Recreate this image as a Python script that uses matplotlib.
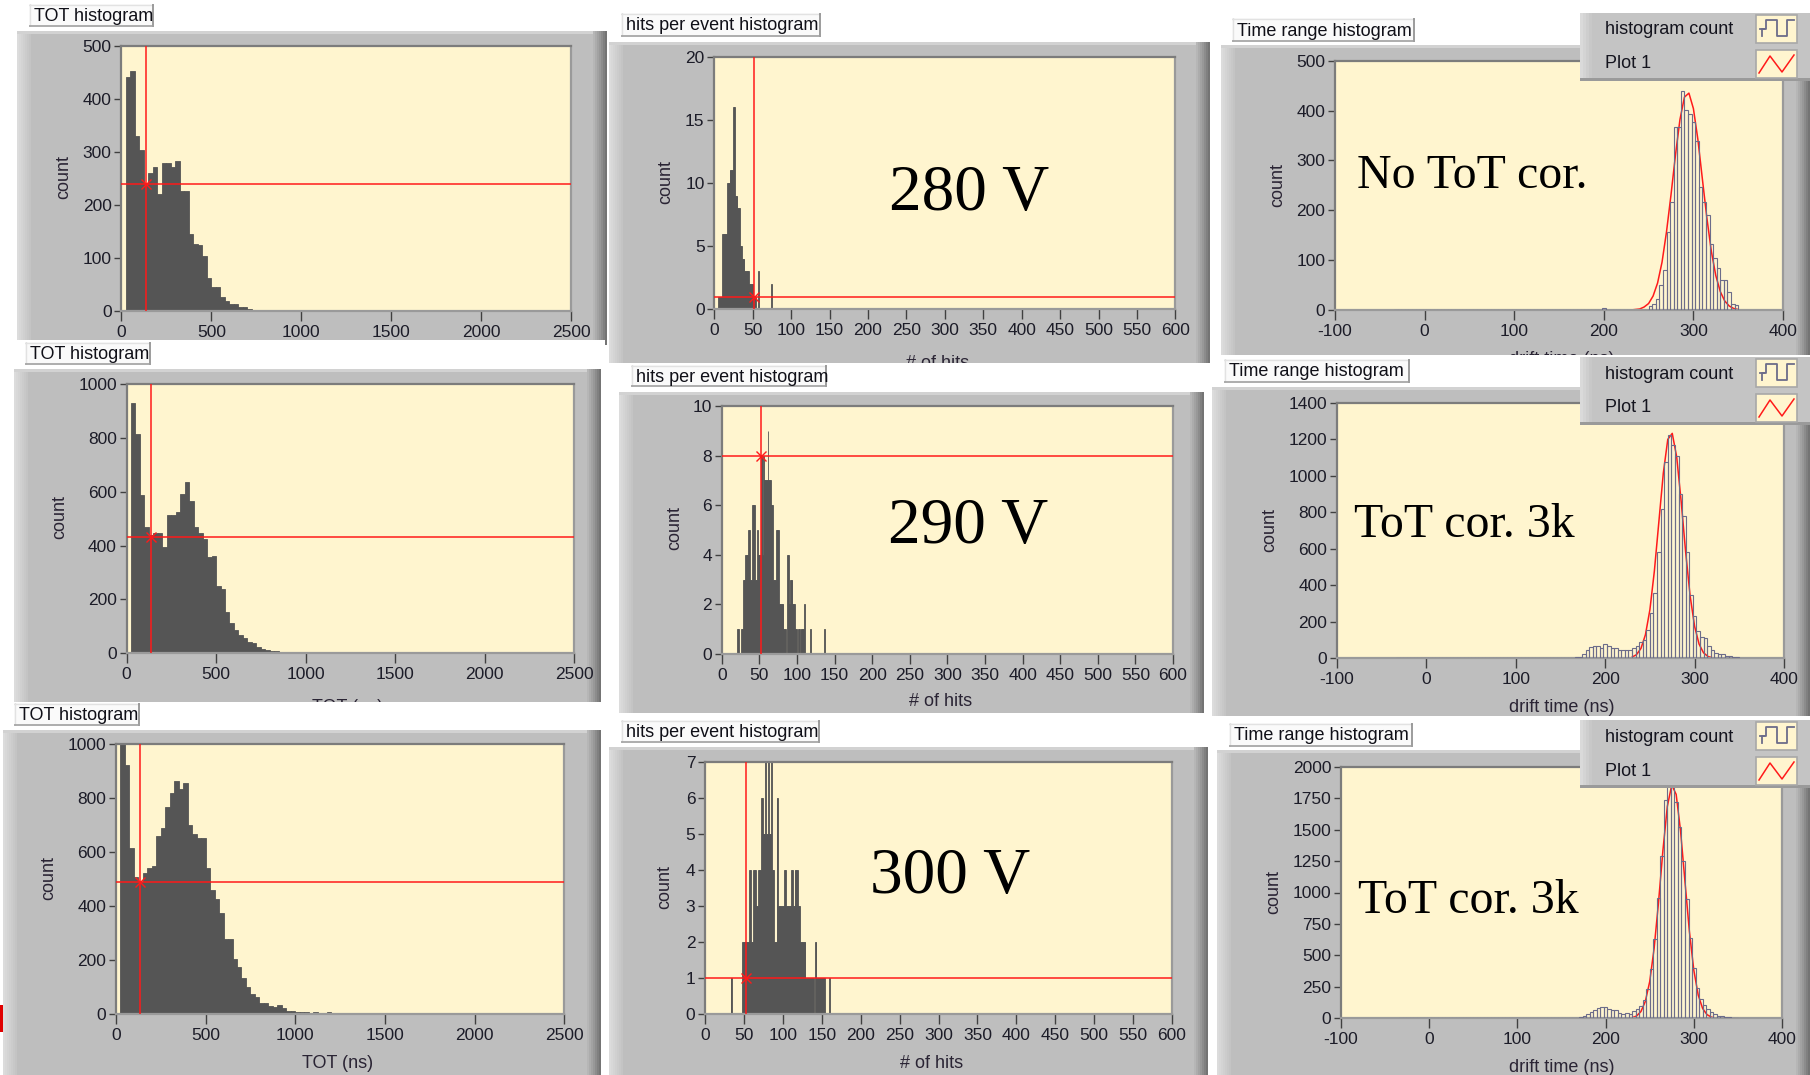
import numpy as np
import matplotlib
matplotlib.use("Agg")
import matplotlib.pyplot as plt
from matplotlib.patches import Rectangle

plt.rcParams['font.family'] = ['Liberation Sans', 'DejaVu Sans']
plt.rcParams['axes.unicode_minus'] = False

W, H = 1810, 1075

# ---------------- values ----------------
voltages = ['280 V', '290 V', '300 V']
drift_notes = ['No ToT cor.', 'ToT cor. 3k', 'ToT cor. 3k']

# TOT histograms, 25 ns bins starting at 25 ns
tot_bin, tot_first, tot_max = 25, 25, 2500
tot_280 = [442, 452, 330, 304, 240, 260, 271, 220, 280, 280, 271, 283, 226, 226, 145,
           126, 125, 103, 62, 45, 45, 27, 18, 14, 14, 8, 8, 3, 2, 1, 1, 1, 1, 1, 1,
           1, 1, 1, 1, 1, 1, 1, 1, 1, 1, 1, 1]
tot_290 = [928, 814, 587, 468, 440, 446, 446, 396, 514, 514, 523, 592, 637, 567, 468,
           446, 423, 356, 361, 250, 238, 155, 114, 87, 68, 56, 41, 37, 22, 17, 12, 9, 9, 6]
tot_300 = [1100, 923, 617, 509, 491, 522, 540, 550, 660, 691, 766, 818, 865, 833, 858,
           701, 666, 651, 651, 543, 460, 426, 376, 277, 277, 203, 175, 132, 101, 73, 62,
           40, 40, 30, 25, 33, 21, 12, 12, 7, 7, 7, 4, 6, 2, 2, 6]
tot_cursors = [(136, 239), (137, 433), (135, 491)]
tot_ylims = [(500, 100), (1000, 200), (1000, 200)]

# hits per event, 1-hit bins
hits_280_first = 5
hits_280 = [1, 1, 1, 1, 1, 6, 6, 6, 6, 6, 6, 6, 10, 10, 10, 11, 11, 11, 11, 16, 16, 16,
            9, 9, 9, 8, 8, 8, 5, 5, 5, 4, 4, 4, 3, 3, 3, 3, 3, 3, 2, 2, 2, 2, 2, 2,
            1, 1, 1, 0, 0, 0, 3, 0, 0, 0, 0, 0, 0, 0, 0, 0, 0, 0, 0, 0, 0, 0, 0, 2]
hits_290_first = 21
hits_290 = [1, 1, 0, 0, 0, 1, 1, 3, 3, 3, 4, 4, 4, 4, 5, 5, 3, 3, 3, 6, 6, 6, 6, 3, 3, 3,
            5, 4, 4, 4, 4, 8, 8, 4, 8, 7, 7, 7, 7, 7, 9, 7, 7, 7, 6, 6, 6, 3, 3, 3, 3,
            5, 5, 5, 5, 2, 2, 2, 2, 2, 2, 1, 1, 1, 0, 0, 4, 4, 2, 2, 3, 3, 3, 2, 2, 2,
            0, 1, 1, 0, 0, 1, 1, 0, 1, 1, 1, 1, 1, 2, 0, 0, 0, 0, 0, 0, 0, 1, 0, 0, 0,
            0, 0, 0, 0, 0, 0, 0, 0, 0, 0, 0, 0, 0, 0, 1]
hits_300_first = 33
hits_300 = [1, 1, 0, 0, 0, 0, 0, 0, 0, 0, 0, 0, 0, 0, 0, 2, 2, 2, 2, 2, 2, 2, 2, 2, 4, 4,
            2, 2, 2, 4, 4, 4, 3, 3, 3, 4, 4, 4, 4, 6, 6, 5, 5, 5, 7, 5, 5, 5, 7, 5, 5,
            5, 7, 4, 4, 4, 2, 2, 2, 6, 6, 3, 3, 3, 3, 3, 3, 3, 3, 4, 4, 3, 3, 3, 3, 3,
            3, 3, 4, 4, 3, 3, 4, 4, 4, 4, 3, 3, 3, 2, 2, 2, 2, 2, 2, 2, 1, 1, 1, 1, 1,
            1, 1, 1, 1, 1, 1, 0, 2, 2, 1, 1, 1, 1, 1, 1, 1, 1, 1, 1, 1, 0, 0, 0, 0, 0, 1]
hits_cursors = [(52, 1), (52, 8), (52.5, 1)]
hits_ylims = [(20, 5), (10, 2), (7, 1)]

# drift time histograms, 4 ns bins over -34 .. 350 ns
drift_bin, drift_lo, drift_hi = 4, -34, 350
drift_280_first = 198
drift_280 = [5, 0, 0, 0, 0, 0, 0, 0, 0, 0, 0, 0, 0,
             8, 13, 23, 50, 80, 156, 217, 367, 367, 439, 402, 394, 378, 338, 247, 217,
             190, 132, 104, 84, 60, 61, 37, 13, 10]
drift_290_first = 166
drift_290 = [9, 9, 25, 43, 61, 70, 70, 58, 81, 70, 54, 54, 43, 43, 43, 43, 54, 67, 90, 98,
             157, 248, 356, 582, 817, 1074, 1224, 1170, 1107, 899, 781, 582, 347, 230,
             148, 116, 112, 67, 43, 31, 25, 25, 15, 10, 8, 5]
drift_300_first = 170
drift_300 = [10, 18, 32, 53, 64, 80, 90, 90, 72, 64, 64, 45, 37, 45, 37, 58, 72, 98, 143,
             230, 390, 628, 960, 1290, 1733, 1850, 1860, 1720, 1520, 1250, 950, 640, 400,
             240, 150, 105, 75, 50, 32, 22, 15, 10, 8, 6, 5]
# "Plot 1" fit curve, sampled every 5 ns
fit_x = [230, 235, 240, 245, 250, 255, 260, 265, 270, 275, 280, 285, 290, 295, 300,
         305, 310, 315, 320, 325, 330, 335, 340, 345, 350]
fit_280 = [0, 1, 2, 6, 13, 28, 54, 96, 157, 231, 311, 382, 427, 435, 404, 342, 263, 185,
           118, 69, 37, 18, 8, 3, 1]
fit_290 = [6, 20, 54, 129, 266, 478, 746, 1014, 1199, 1232, 1102, 858, 581, 342, 175, 78,
           30, 10, 3, 1, 0, 0, 0, 0, 0]
fit_300 = [5, 18, 53, 133, 291, 555, 922, 1335, 1685, 1855, 1780, 1489, 1086, 691, 383,
           185, 78, 29, 9, 2, 1, 0, 0, 0, 0]
drift_ylims = [(500, 100), (1400, 200), (2000, 250)]

# ---------------- layout (pixel boxes, y from top) ----------------
CREAM = '#FFF5CF'
GRAY = '#BEBEBE'
RED = '#FF1A1A'
BAR = '#555555'
OUTLINE = '#6C6C8A'

fig = plt.figure(figsize=(W / 100, H / 100), dpi=100)
fig.patch.set_facecolor('white')


def add_px_axes(x0, y0, x1, y1, z):
    ax = fig.add_axes([x0 / W, 1 - y1 / H, (x1 - x0) / W, (y1 - y0) / H])
    ax.set_zorder(z)
    return ax


def deco_axes(x0, y0, x1, y1, z):
    ax = add_px_axes(x0, y0, x1, y1, z)
    ax.set_xlim(0, x1 - x0)
    ax.set_ylim(y1 - y0, 0)
    ax.axis('off')
    return ax


def rect(ax, x, y, w, h, c):
    ax.add_patch(Rectangle((x, y), w, h, facecolor=c, edgecolor='none', lw=0))


def draw_strip(box, z):
    ax = deco_axes(*box, z)
    rect(ax, 0, 0, box[2] - box[0], box[3] - box[1], 'white')


def draw_frame(box, z):
    ax = deco_axes(*box, z)
    w, h = box[2] - box[0], box[3] - box[1]
    rect(ax, 0, 0, w, h, GRAY)
    light = ['#DCDCDC', '#D8D8D8', '#D4D4D4', '#D0D0D0', '#CCCCCC', '#C8C8C8', '#C4C4C4']
    for i, c in enumerate(light):
        rect(ax, i * 2, 0, 2, h, c)
    rect(ax, 0, 0, w, 3, '#D2D2D2')
    dark = ['#B6B6B6', '#ACACAC', '#A2A2A2', '#989898', '#8C8C8C', '#808080', '#747474']
    for i, c in enumerate(dark):
        rect(ax, w - 14 + i * 2, 0, 2, h, c)


def draw_title(box, text, z):
    ax = deco_axes(*box, z)
    w, h = box[2] - box[0], box[3] - box[1]
    rect(ax, 0, 0, w, h, '#FAFAFA')
    ax.plot([0, w], [0.5, 0.5], color='#E2E2E2', lw=1)
    ax.plot([0.5, 0.5], [0, h], color='#E2E2E2', lw=1)
    ax.plot([w - 1, w - 1], [0, h], color='#8C8C8C', lw=1.2)
    ax.plot([0, w], [h - 1, h - 1], color='#A0A0A0', lw=1.2)
    ax.text(5, h / 2 + 1, text, fontsize=13, color='#101018', va='center', ha='left')


def draw_legend(x0, y0, z):
    w, h = W - x0, 68
    ax = deco_axes(x0, y0, W, y0 + h, z)
    rect(ax, 0, 0, w, h, '#C4C4C4')
    for i, c in enumerate(['#DADADA', '#D4D4D4', '#CECECE', '#C8C8C8']):
        rect(ax, i * 3, 0, 3, h, c)
    rect(ax, 0, h - 3, w, 3, '#9A9A9A')
    ax.text(25, 17, 'histogram count', fontsize=13, color='#14141e', va='center')
    ax.text(25, 51, 'Plot 1', fontsize=13, color='#14141e', va='center')
    for top in (2, 37):
        ax.add_patch(Rectangle((176, top), 41, 28, facecolor=CREAM,
                               edgecolor='#A8A8A8', lw=1.2))
    ax.plot([180, 186, 186, 197, 197, 207, 207, 214], [16, 16, 7, 7, 23, 23, 7, 7],
            color=OUTLINE, lw=1.3)
    ax.plot([184, 182, 182], [16, 16, 23], color=OUTLINE, lw=1.3)
    ax.plot([179, 190, 202, 214], [60, 43, 59, 42], color=RED, lw=1.1)


def style_plot(ax, xlim, xticks, ymax, ystep):
    ax.set_facecolor(CREAM)
    ax.set_xlim(*xlim)
    ax.set_ylim(0, ymax)
    ax.set_xticks(xticks)
    ax.set_yticks(np.arange(0, ymax + 1, ystep))
    ax.tick_params(direction='out', width=1, color='#404040', labelsize=12.5,
                   labelcolor='#1c1c28')
    ax.tick_params(axis='x', length=7, pad=3)
    ax.tick_params(axis='y', length=5, pad=2)
    for side, s in ax.spines.items():
        s.set_color('#7C7C7C' if side in ('top', 'left') else '#9A9A9A')
        s.set_linewidth(1.6)


def full_hist(first, counts, lo, hi, width):
    n = int(round((hi - lo) / width))
    full = np.zeros(n)
    k = int(round((first - lo) / width))
    vals = np.asarray(counts, dtype=float)[: n - k]
    full[k:k + len(vals)] = vals
    return lo + width * np.arange(n), full


def cursor(ax, cx, cy):
    ax.axvline(cx, color=RED, lw=1.1, zorder=5)
    ax.axhline(cy, color=RED, lw=1.1, zorder=5)
    ax.plot([cx], [cy], marker='x', color=RED, ms=7, mew=1.0, zorder=6)


# panel geometry per row: (strip, frame, title box, plot box)
tot_geo = [
    (None, (17, 31, 607, 345), (29, 4, 154, 27), (121.4, 46, 571.2, 311)),
    ((0, 340, 605, 369), (14, 369, 601, 712), (25, 342, 151, 365), (126.5, 384, 574.3, 653.3)),
    ((0, 702, 605, 730), (3, 730, 601, 1075), (14, 703, 140, 726), (116, 744.3, 564.2, 1014)),
]
hits_geo = [
    (None, (609, 42, 1210, 363), (621, 13, 821, 37), (714.3, 56.7, 1175.4, 309.3)),
    ((605, 363, 1212, 392), (619, 392, 1204, 713), (631, 365, 827, 387), (721.7, 406, 1173, 654)),
    ((605, 713, 1212, 747), (609, 747, 1208, 1075), (621, 720, 820, 743), (705, 761.7, 1172, 1014)),
]
drift_geo = [
    (None, (1221, 45, 1810, 355), (1232, 18, 1415, 42), (1335, 60.7, 1783, 310)),
    ((1212, 355, 1810, 387), (1212, 387, 1810, 718), (1224, 359, 1410, 383), (1337, 402.7, 1784, 658.3)),
    ((1212, 716, 1810, 750), (1217, 750, 1810, 1075), (1229, 723, 1413, 747), (1341, 766.7, 1782, 1018.3)),
]
tot_count_pos = [(64, 177), (60, 517), (49, 878)]
hits_count_pos = [(666, 182), (675, 528), (665, 887)]
drift_count_pos = [(1278, 185), (1270, 530), (1274, 892)]
tot_xlabel_pos = [(346, 362), (348, 708), (338, 1063)]
hits_xlabel_pos = [(938, 364), (941, 702), (932, 1063)]
drift_xlabel_pos = [(1562, 360), (1562, 708), (1562, 1068)]
volt_pos = [(969, 210), (968, 543), (950, 893)]
note_pos = [(1357, 188), (1354, 537), (1358, 913)]
legend_top = [13, 357, 720]

tot_data = [tot_280, tot_290, tot_300]
hits_data = [(hits_280_first, hits_280), (hits_290_first, hits_290), (hits_300_first, hits_300)]
drift_data = [(drift_280_first, drift_280), (drift_290_first, drift_290), (drift_300_first, drift_300)]
fit_data = [fit_280, fit_290, fit_300]

LABEL = dict(fontsize=13, color='#2a2434', ha='center', va='center')

for r in range(3):
    z = 10 * (r + 1)

    # ---- TOT histogram ----
    strip, frame, tbox, pbox = tot_geo[r]
    if strip:
        draw_strip(strip, z)
    draw_frame(frame, z + 1)
    ax = add_px_axes(*pbox, z + 2)
    ymax, ystep = tot_ylims[r]
    style_plot(ax, (0, 2500), np.arange(0, 2501, 500), ymax, ystep)
    edges, counts = full_hist(tot_first, tot_data[r], tot_first, tot_max, tot_bin)
    ax.bar(edges, counts, width=tot_bin, align='edge', color=BAR, edgecolor=BAR, lw=0.6)
    cursor(ax, *tot_cursors[r])
    draw_title(tbox, 'TOT histogram', z + 3)
    fig.text(tot_count_pos[r][0] / W, 1 - tot_count_pos[r][1] / H, 'count',
             rotation=90, zorder=z + 4, **LABEL)
    fig.text(tot_xlabel_pos[r][0] / W, 1 - tot_xlabel_pos[r][1] / H, 'TOT (ns)',
             zorder=z + 1.5, **LABEL)

    # ---- hits per event histogram ----
    strip, frame, tbox, pbox = hits_geo[r]
    if strip:
        draw_strip(strip, z)
    draw_frame(frame, z + 1)
    ax = add_px_axes(*pbox, z + 2)
    ymax, ystep = hits_ylims[r]
    style_plot(ax, (0, 600), np.arange(0, 601, 50), ymax, ystep)
    first, vals = hits_data[r]
    ax.bar(first + np.arange(len(vals)), vals, width=1, align='edge', color=BAR,
           edgecolor=BAR, lw=0.6)
    cursor(ax, *hits_cursors[r])
    draw_title(tbox, 'hits per event histogram', z + 3)
    fig.text(hits_count_pos[r][0] / W, 1 - hits_count_pos[r][1] / H, 'count',
             rotation=90, zorder=z + 4, **LABEL)
    fig.text(hits_xlabel_pos[r][0] / W, 1 - hits_xlabel_pos[r][1] / H, '# of hits',
             zorder=z + 1.5, **LABEL)
    fig.text(volt_pos[r][0] / W, 1 - volt_pos[r][1] / H, voltages[r], fontsize=47,
             family='Liberation Serif', color='black', ha='center', va='baseline',
             zorder=z + 4)

    # ---- time range histogram ----
    strip, frame, tbox, pbox = drift_geo[r]
    if strip:
        draw_strip(strip, z)
    draw_frame(frame, z + 1)
    ax = add_px_axes(*pbox, z + 2)
    ymax, ystep = drift_ylims[r]
    style_plot(ax, (-100, 400), np.arange(-100, 401, 100), ymax, ystep)
    first, vals = drift_data[r]
    edges, counts = full_hist(first, vals, drift_lo, drift_hi, drift_bin)
    ax.plot(fit_x, fit_data[r], color=RED, lw=1.1, zorder=2)
    ax.bar(edges, counts, width=drift_bin, align='edge', fill=False, edgecolor=OUTLINE,
           lw=0.8, zorder=3)
    draw_title(tbox, 'Time range histogram', z + 3)
    fig.text(drift_count_pos[r][0] / W, 1 - drift_count_pos[r][1] / H, 'count',
             rotation=90, zorder=z + 4, **LABEL)
    fig.text(drift_xlabel_pos[r][0] / W, 1 - drift_xlabel_pos[r][1] / H, 'drift time (ns)',
             zorder=z + 1.5, **LABEL)
    fig.text(note_pos[r][0] / W, 1 - note_pos[r][1] / H, drift_notes[r], fontsize=34.5,
             family='Liberation Serif', color='black', ha='left', va='baseline',
             zorder=z + 4)
    draw_legend(1580, legend_top[r], z + 5)

# small red mark at the left edge
mark = deco_axes(0, 1005, 3, 1032, 50)
rect(mark, 0, 0, 3, 27, '#E00000')

fig.savefig('out.png', dpi=100)
